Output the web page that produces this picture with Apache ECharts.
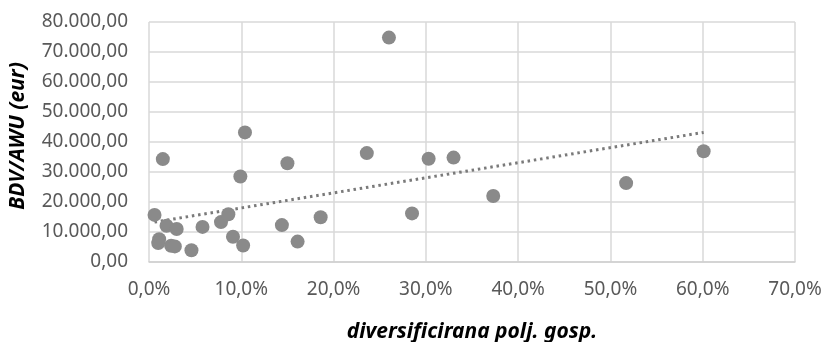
<!DOCTYPE html>
<html>
<head>
<meta charset="utf-8">
<script src="https://cdn.jsdelivr.net/npm/echarts@6/dist/echarts.min.js"></script>
<style>html,body{margin:0;padding:0;background:#fff}#c{width:822px;height:342px}</style>
</head>
<body>
<div id="c"></div>
<script>
// x: diversificirana polj. gosp. (%), y: BDV/AWU (eur)
var xValues = [0.6, 1.5, 1.1, 1.0, 1.9, 3.0, 2.4, 2.8, 4.6, 5.8, 7.8, 8.6, 9.1, 9.9, 10.2, 10.4, 14.4, 15.0, 16.1, 18.6, 23.6, 26.0, 28.5, 30.3, 33.0, 37.3, 51.7, 60.1];
var yValues = [15700, 34300, 7600, 6300, 12100, 11000, 5400, 5200, 3900, 11700, 13300, 15900, 8400, 28500, 5500, 43200, 12300, 32900, 6800, 14900, 36300, 74800, 16200, 34400, 34800, 22000, 26300, 36900];
var trendX = [0.6, 60.1];
var trendY = [13300, 43200];
var xTicks = {min: 0, max: 70, interval: 10};
var yTicks = {min: 0, max: 80000, interval: 10000};

var points = xValues.map(function (x, i) { return [x, yValues[i]]; });
var trend = trendX.map(function (x, i) { return [x, trendY[i]]; });

function fmtY(v) {
  var s = Math.round(v).toString().replace(/\B(?=(\d{3})+(?!\d))/g, '.');
  return s + ',00';
}
function fmtX(v) { return v.toFixed(1).replace('.', ',') + '%'; }

var chart = echarts.init(document.getElementById('c'));
chart.setOption({
  animation: false,
  grid: {left: 149, right: 27, top: 22, bottom: 80, containLabel: false, outerBoundsMode: 'none'},
  xAxis: {
    type: 'value', min: xTicks.min, max: xTicks.max, interval: xTicks.interval,
    name: 'diversificirana polj. gosp.', nameLocation: 'middle', nameGap: 60,
    nameTextStyle: {fontFamily: 'Noto Sans', fontSize: 21, fontWeight: 'bold', fontStyle: 'italic', color: '#000'},
    axisLine: {show: true, lineStyle: {color: '#d0d0d0', width: 1.5}},
    axisTick: {show: false},
    splitLine: {show: true, lineStyle: {color: '#d9d9d9', width: 1.5}},
    axisLabel: {formatter: fmtX, color: '#595959', fontFamily: 'Noto Sans', fontSize: 19, margin: 18}
  },
  yAxis: {
    type: 'value', min: yTicks.min, max: yTicks.max, interval: yTicks.interval,
    name: 'BDV/AWU (eur)', nameLocation: 'middle', nameGap: 120,
    nameTextStyle: {fontFamily: 'Noto Sans', fontSize: 21, fontWeight: 'bold', fontStyle: 'italic', color: '#000', padding: [0, 0, 0, 12]},
    axisLine: {show: false},
    axisTick: {show: false},
    splitLine: {show: true, lineStyle: {color: '#d9d9d9', width: 1.5}},
    axisLabel: {formatter: fmtY, color: '#595959', fontFamily: 'Noto Sans', fontSize: 19, margin: 21}
  },
  series: [
    {
      type: 'scatter', data: points, symbol: 'circle', symbolSize: 14,
      itemStyle: {color: '#8a8a8a', opacity: 1}, z: 3
    },
    {
      type: 'line', data: trend, symbol: 'none', z: 2,
      lineStyle: {color: '#7a7a7a', width: 3, type: [2.5, 3.8], cap: 'butt'}
    }
  ]
});
</script>
</body>
</html>
